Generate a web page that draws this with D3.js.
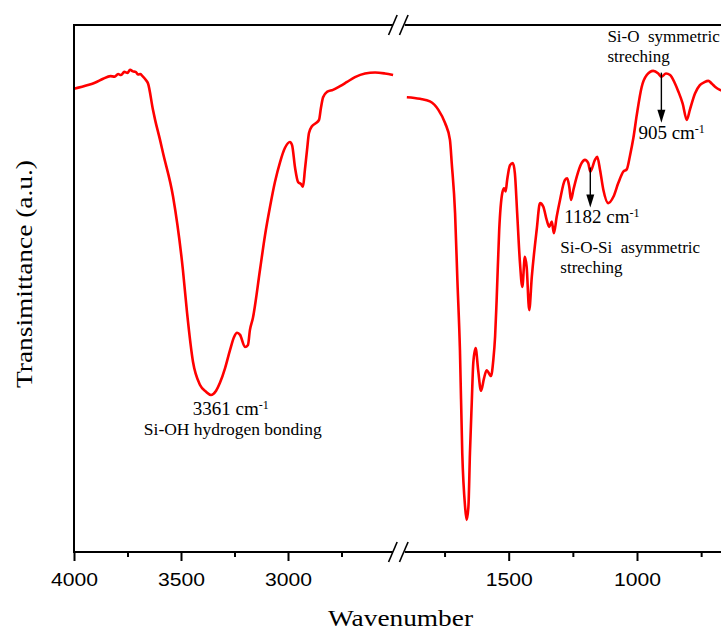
<!DOCTYPE html>
<html>
<head>
<meta charset="utf-8">
<script src="https://cdn.jsdelivr.net/npm/d3@7/dist/d3.min.js"></script>
<style>
  html, body { margin: 0; padding: 0; background: #fff; overflow: hidden; }
  svg { display: block; }
</style>
</head>
<body>
<svg id="chart" width="721" height="632"></svg>
<script>
// FTIR spectrum of the silica sample, drawn on a broken wavenumber axis.

// High-wavenumber window (cm-1) and transmittance (a.u.)
const highWavenumbers = [4000, 3935, 3900, 3864, 3830, 3810, 3794, 3780, 3765, 3750, 3738, 3725, 3712, 3700, 3690,
  3682, 3665, 3654, 3631, 3621, 3598, 3584, 3537, 3491, 3472, 3444, 3411, 3383, 3360, 3336, 3318, 3294, 3271,
  3252, 3238, 3224, 3201, 3187, 3178, 3164, 3131, 3107, 3084, 3061, 3037, 3014, 2991, 2981, 2967, 2953, 2939,
  2930, 2921, 2911, 2902, 2888, 2869, 2855, 2846, 2836, 2818, 2790, 2757, 2724, 2687, 2640, 2593, 2547, 2509];
const highTransmittance = [87.9, 88.6, 89.1, 89.8, 90.3, 90.2, 90.7, 90.5, 91.1, 90.9, 91.5, 91.2, 91.1, 90.6, 90.7,
  90.4, 89.6, 88.9, 83.9, 82.0, 78.2, 75.7, 67.4, 53.5, 45.5, 36.1, 31.7, 30.4, 29.8, 30.6, 32.1, 34.9, 38.3,
  40.8, 41.6, 41.2, 38.9, 39.3, 42.1, 44.4, 53.5, 60.2, 65.5, 70.2, 74.0, 76.7, 77.8, 77.2, 72.9, 70.2, 69.8,
  69.3, 72.5, 76.3, 79.5, 80.8, 81.4, 82.0, 84.3, 86.3, 87.3, 87.7, 88.4, 89.2, 90.1, 90.8, 91.0, 90.8, 90.5];

// Fingerprint window (cm-1) and transmittance (a.u.)
const lowWavenumbers = [1897, 1846, 1807, 1774, 1748, 1729, 1722, 1709, 1700, 1690, 1681, 1670, 1664, 1657,
  1651, 1644, 1638, 1629, 1619, 1608, 1596, 1586, 1569, 1560, 1553, 1547, 1537, 1525, 1518, 1512, 1506,
  1495, 1484, 1476, 1467, 1456, 1447, 1437, 1430, 1420, 1410, 1391, 1378, 1365, 1352, 1342, 1332, 1324,
  1313, 1300, 1281, 1272, 1264, 1257, 1248, 1235, 1216, 1203, 1190, 1182, 1164, 1155, 1144, 1131, 1112,
  1092, 1073, 1053, 1040, 1027, 1014, 1001, 982, 962, 937, 917, 905, 887, 871, 852, 839, 822, 806, 794,
  774, 755, 739, 722, 709, 696, 677, 660];
const lowTransmittance = [86.3, 86.0, 85.5, 83.9, 81.4, 78.2, 73.8, 64.3, 51.6, 38.3, 18.8, 8.6, 6.1, 8.6,
  18.8, 28.3, 35.9, 38.7, 34.5, 30.6, 33.0, 34.5, 33.4, 36.4, 40.9, 47.8, 61.1, 68.1, 69.0, 68.4, 70.6,
  73.4, 73.8, 71.9, 64.3, 54.8, 50.3, 56.0, 54.1, 45.9, 52.2, 61.1, 66.2, 65.5, 63.0, 61.7, 62.7, 60.5,
  63.6, 66.8, 70.6, 70.9, 69.3, 66.8, 68.7, 71.2, 73.8, 74.4, 73.8, 72.2, 74.4, 75.0, 72.5, 68.7, 66.2,
  67.4, 70.0, 72.2, 72.6, 75.3, 78.6, 82.9, 88.2, 90.5, 91.3, 90.8, 90.2, 90.8, 90.5, 88.9, 87.4, 85.1, 82.0, 83.9,
  87.0, 88.6, 89.1, 89.4, 88.9, 88.3, 87.7, 87.4];

// Bottom axis ticks
const majorTicksHigh = [4000, 3500, 3000];
const minorTicksHigh = [3750, 3250, 2750];
const majorTicksLow = [1500, 1000];
const minorTicksLow = [1750, 1250, 750];

// Band assignments
const bandWavenumbers = [3361, 1182, 905];
const bandLabels = ["3361 cm", "1182 cm", "905 cm"];
const bandNotes = [["Si-OH hydrogen bonding"], ["Si-O-Si  asymmetric", "streching"], ["Si-O  symmetric", "streching"]];

// ---- layout ----
const frameTop = 25, frameBottom = 552, frameLeft = 74, frameRight = 740;
const highEnd = 2510, lowStart = 1905;

const svg = d3.select("#chart");
svg.append("rect").attr("width", 721).attr("height", 632).attr("fill", "#fff");

const xHigh = d3.scaleLinear().domain([4000, 3000]).range([74, 288]);
const xLow = d3.scaleLinear().domain([1500, 1000]).range([508.7, 637]);
const y = d3.scaleLinear().domain([0, 100]).range([frameBottom, frameTop]);

const serif = "'Liberation Serif', 'Times New Roman', serif";
const sans = "'Liberation Sans', Arial, sans-serif";

// ---- spectrum ----
const highData = highWavenumbers.map((w, i) => [w, highTransmittance[i]]);
const lowData = lowWavenumbers.map((w, i) => [w, lowTransmittance[i]]);

const lineHigh = d3.line().x(d => xHigh(d[0])).y(d => y(d[1])).curve(d3.curveMonotoneX);
const lineLow = d3.line().x(d => xLow(d[0])).y(d => y(d[1])).curve(d3.curveMonotoneX);

svg.append("path").datum(highData).attr("d", lineHigh)
  .attr("fill", "none").attr("stroke", "#ff0000").attr("stroke-width", 2.6).attr("stroke-linejoin", "round");
svg.append("path").datum(lowData).attr("d", lineLow)
  .attr("fill", "none").attr("stroke", "#ff0000").attr("stroke-width", 2.6).attr("stroke-linejoin", "round");

// ---- frame ----
const frame = svg.append("g").attr("stroke", "#000").attr("stroke-width", 2).attr("fill", "none");
frame.append("line").attr("x1", frameLeft).attr("x2", frameLeft).attr("y1", frameTop - 1).attr("y2", frameBottom + 1);
[frameTop, frameBottom].forEach(yy => {
  frame.append("line").attr("x1", frameLeft).attr("x2", xHigh(highEnd)).attr("y1", yy).attr("y2", yy);
  frame.append("line").attr("x1", xLow(lowStart)).attr("x2", frameRight).attr("y1", yy).attr("y2", yy);
  // axis-break marks
  [xHigh(highEnd), xLow(lowStart) - 1].forEach(cx => {
    frame.append("line").attr("stroke-width", 1.6)
      .attr("x1", cx - 4.3).attr("y1", yy + 10).attr("x2", cx + 4.3).attr("y2", yy - 10);
  });
});

// ---- bottom axes ----
function styleAxis(g) {
  g.select(".domain").remove();
  g.selectAll(".tick line").attr("stroke", "#000").attr("stroke-width", 2);
  g.selectAll(".tick text")
    .attr("font-family", sans).attr("font-size", 19).attr("fill", "#000")
    .attr("textLength", 47).attr("lengthAdjust", "spacingAndGlyphs")
    .attr("x", -23.5).attr("text-anchor", "start");
}
function minorAxis(g) {
  g.select(".domain").remove();
  g.selectAll(".tick line").attr("stroke", "#000").attr("stroke-width", 2);
  g.selectAll(".tick text").remove();
}
svg.append("g").attr("transform", `translate(0,${frameBottom})`)
  .call(d3.axisBottom(xHigh).tickValues(majorTicksHigh).tickSize(9).tickPadding(12).tickFormat(d3.format("d")))
  .call(styleAxis);
svg.append("g").attr("transform", `translate(0,${frameBottom})`)
  .call(d3.axisBottom(xLow).tickValues(majorTicksLow).tickSize(9).tickPadding(12).tickFormat(d3.format("d")))
  .call(styleAxis);
svg.append("g").attr("transform", `translate(0,${frameBottom})`)
  .call(d3.axisBottom(xHigh).tickValues(minorTicksHigh).tickSize(5))
  .call(minorAxis);
svg.append("g").attr("transform", `translate(0,${frameBottom})`)
  .call(d3.axisBottom(xLow).tickValues(minorTicksLow).tickSize(5))
  .call(minorAxis);

// ---- axis titles ----
svg.append("text").attr("x", 400.5).attr("y", 626)
  .attr("text-anchor", "middle").attr("font-family", serif).attr("font-size", 24)
  .attr("textLength", 145).attr("lengthAdjust", "spacingAndGlyphs")
  .text("Wavenumber");
svg.append("text").attr("transform", "translate(32,274) rotate(-90)")
  .attr("text-anchor", "middle").attr("font-family", serif).attr("font-size", 23.5)
  .attr("textLength", 228).attr("lengthAdjust", "spacingAndGlyphs")
  .text("Transimittance (a.u.)");

// ---- band annotations ----
function valueAt(wns, ts, w) {
  for (let i = 0; i < wns.length - 1; i++) {
    if ((wns[i] - w) * (wns[i + 1] - w) <= 0) {
      const t = (w - wns[i]) / (wns[i + 1] - wns[i]);
      return ts[i] + t * (ts[i + 1] - ts[i]);
    }
  }
  return ts[ts.length - 1];
}
function bandLabel(x, yy, label, anchor) {
  const t = svg.append("text").attr("x", x).attr("y", yy)
    .attr("font-family", serif).attr("font-size", 19).attr("fill", "#000")
    .attr("text-anchor", anchor);
  t.append("tspan").text(label);
  t.append("tspan").attr("font-size", 12).attr("dy", -5.5).text("-1");
}
function noteLines(x, yy, lines, anchor, size) {
  lines.forEach((s, i) => {
    svg.append("text").attr("x", x).attr("y", yy + i * 20)
      .attr("font-family", serif).attr("font-size", size).attr("fill", "#000")
      .attr("text-anchor", anchor).style("white-space", "pre").text(s);
  });
}
function arrow(x, y0, y1) {
  const head = 13, half = 4;
  svg.append("line").attr("x1", x).attr("x2", x).attr("y1", y0).attr("y2", y1 - head + 1)
    .attr("stroke", "#000").attr("stroke-width", 1.4);
  svg.append("path").attr("d", `M${x - half},${y1 - head}L${x + half},${y1 - head}L${x},${y1}Z`).attr("fill", "#000");
}

// 3361 cm-1: O-H band minimum
{
  const w = bandWavenumbers[0];
  const cx = xHigh(w) + 20;
  const yMin = y(valueAt(highWavenumbers, highTransmittance, w));
  bandLabel(cx, yMin + 20, bandLabels[0], "middle");
  noteLines(cx + 2, yMin + 40, bandNotes[0], "middle", 17.5);
}
// 1182 cm-1
{
  const w = bandWavenumbers[1];
  const ax = xLow(w);
  const y0 = y(valueAt(lowWavenumbers, lowTransmittance, w)) - 4;
  const tip = y0 + 40;
  arrow(ax, y0, tip);
  bandLabel(ax - 26, tip + 15, bandLabels[1], "start");
  noteLines(ax - 30, tip + 45, bandNotes[1], "start", 17);
}
// 905 cm-1
{
  const w = bandWavenumbers[2];
  const ax = xLow(w);
  const y0 = y(valueAt(lowWavenumbers, lowTransmittance, w)) - 4;
  const tip = y0 + 50;
  arrow(ax, y0, tip);
  bandLabel(ax - 23, tip + 16, bandLabels[2], "start");
  noteLines(ax - 54, 41.5, bandNotes[2], "start", 17);
}
</script>
</body>
</html>
